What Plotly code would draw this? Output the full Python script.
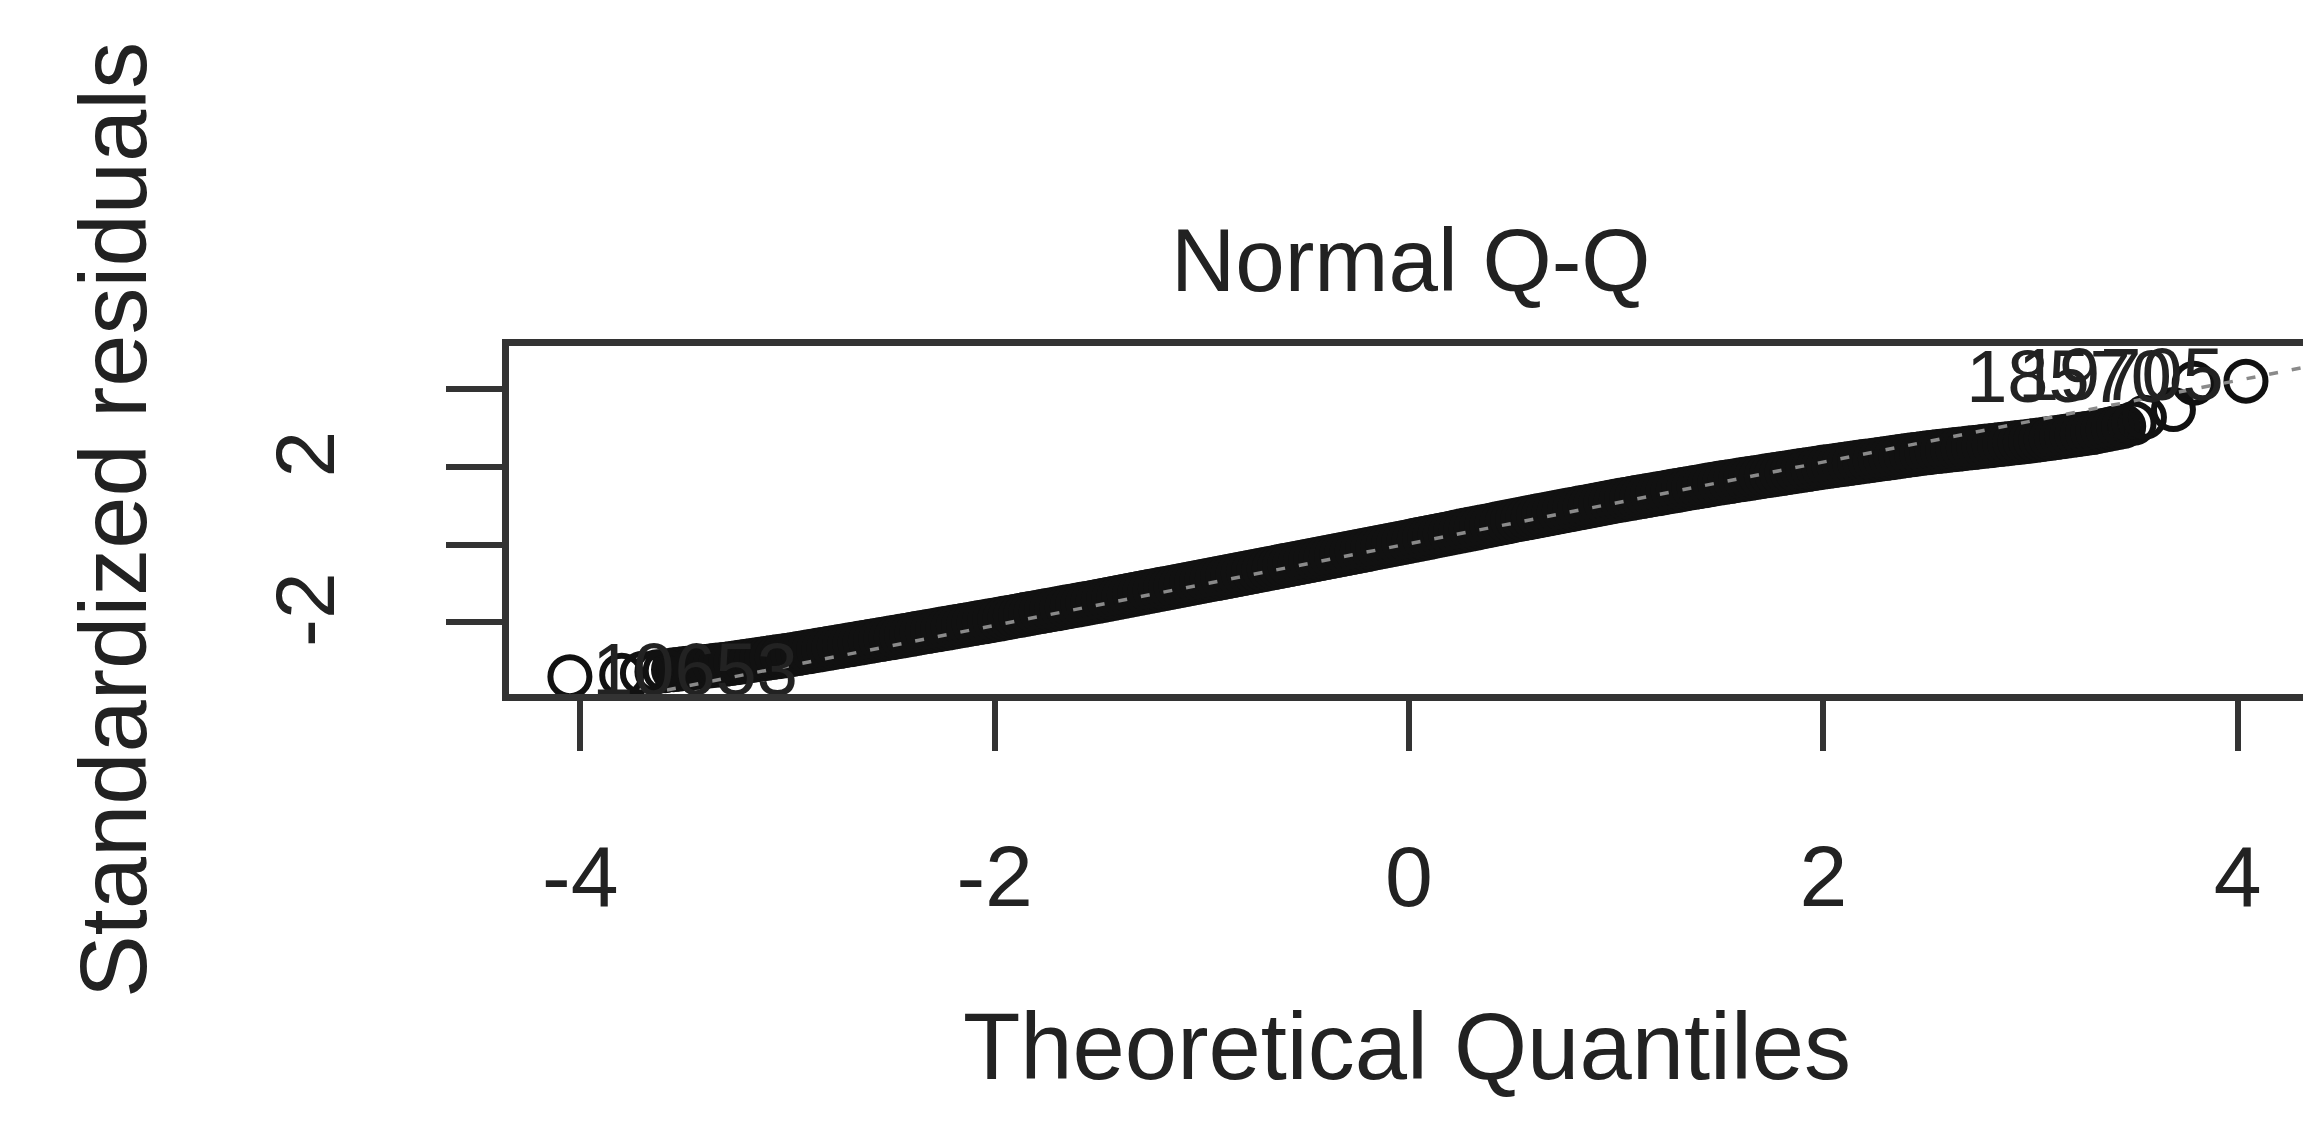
import plotly.graph_objects as go

# ---- data ----
# dense band of points (theoretical quantile, standardized residual)
band_x = [-3.55, -3.525, -3.5, -3.475, -3.45, -3.425, -3.4, -3.375, -3.35, -3.325, -3.3,
          -3.275, -3.25, -3.225, -3.2, -3.175, -3.15, -3.125, -3.1, -3.075, -3.05, -3.025, -3.0,
          -2.975, -2.95, -2.925, -2.9, -2.875, -2.85, -2.825, -2.8, -2.775, -2.75, -2.725, -2.7,
          -2.675, -2.65, -2.625, -2.6, -2.575, -2.55, -2.525, -2.5,
          -2.475, -2.45, -2.425, -2.4, -2.375, -2.35, -2.325, -2.3, -2.275, -2.25, -2.225, -2.2,
          -2.175, -2.15, -2.125, -2.1, -2.075, -2.05, -2.025, -2.0,
          -1.975, -1.95, -1.925, -1.9, -1.875, -1.85, -1.825, -1.8, -1.775, -1.75, -1.725, -1.7,
          -1.675, -1.65, -1.625, -1.6, -1.575, -1.55, -1.525, -1.5,
          -1.475, -1.45, -1.425, -1.4, -1.375, -1.35, -1.325, -1.3, -1.275, -1.25, -1.225, -1.2,
          -1.175, -1.15, -1.125, -1.1, -1.075, -1.05, -1.025, -1.0,
          -0.975, -0.95, -0.925, -0.9, -0.875, -0.85, -0.825, -0.8, -0.775, -0.75, -0.725, -0.7,
          -0.675, -0.65, -0.625, -0.6, -0.575, -0.55, -0.525, -0.5,
          -0.475, -0.45, -0.425, -0.4, -0.375, -0.35, -0.325, -0.3, -0.275, -0.25, -0.225, -0.2,
          -0.175, -0.15, -0.125, -0.1, -0.075, -0.05, -0.025, 0.0,
          0.025, 0.05, 0.075, 0.1, 0.125, 0.15, 0.175, 0.2, 0.225, 0.25, 0.275, 0.3,
          0.325, 0.35, 0.375, 0.4, 0.425, 0.45, 0.475, 0.5,
          0.525, 0.55, 0.575, 0.6, 0.625, 0.65, 0.675, 0.7, 0.725, 0.75, 0.775, 0.8,
          0.825, 0.85, 0.875, 0.9, 0.925, 0.95, 0.975, 1.0,
          1.025, 1.05, 1.075, 1.1, 1.125, 1.15, 1.175, 1.2, 1.225, 1.25, 1.275, 1.3,
          1.325, 1.35, 1.375, 1.4, 1.425, 1.45, 1.475, 1.5,
          1.525, 1.55, 1.575, 1.6, 1.625, 1.65, 1.675, 1.7, 1.725, 1.75, 1.775, 1.8,
          1.825, 1.85, 1.875, 1.9, 1.925, 1.95, 1.975, 2.0,
          2.025, 2.05, 2.075, 2.1, 2.125, 2.15, 2.175, 2.2, 2.225, 2.25, 2.275, 2.3,
          2.325, 2.35, 2.375, 2.4, 2.425, 2.45, 2.475, 2.5,
          2.525, 2.55, 2.575, 2.6, 2.625, 2.65, 2.675, 2.7, 2.725, 2.75, 2.775, 2.8,
          2.825, 2.85, 2.875, 2.9, 2.925, 2.95, 2.975, 3.0,
          3.025, 3.05, 3.075, 3.1, 3.125, 3.15, 3.175, 3.2, 3.225, 3.25, 3.275, 3.3,
          3.325, 3.35, 3.375, 3.4, 3.425, 3.45]
band_y = [-3.22, -3.206, -3.192, -3.178, -3.164, -3.15, -3.136, -3.122, -3.108, -3.094, -3.08,
          -3.061, -3.042, -3.023, -3.003, -2.984, -2.965, -2.946, -2.927, -2.907, -2.888, -2.869, -2.85,
          -2.828, -2.805, -2.783, -2.76, -2.738, -2.715, -2.693, -2.67, -2.648, -2.625, -2.603, -2.58,
          -2.558, -2.535, -2.513, -2.49, -2.468, -2.445, -2.423, -2.4,
          -2.377, -2.354, -2.331, -2.308, -2.285, -2.262, -2.239, -2.216, -2.193, -2.17, -2.147, -2.124,
          -2.101, -2.078, -2.055, -2.032, -2.009, -1.986, -1.963, -1.94,
          -1.916, -1.892, -1.868, -1.844, -1.82, -1.796, -1.772, -1.748, -1.724, -1.7, -1.676, -1.652,
          -1.628, -1.604, -1.58, -1.556, -1.532, -1.508, -1.484, -1.46,
          -1.435, -1.409, -1.384, -1.358, -1.333, -1.307, -1.282, -1.256, -1.231, -1.205, -1.18, -1.154,
          -1.129, -1.103, -1.078, -1.052, -1.027, -1.001, -0.976, -0.95,
          -0.925, -0.899, -0.874, -0.848, -0.823, -0.797, -0.772, -0.746, -0.721, -0.695, -0.67, -0.644,
          -0.619, -0.593, -0.568, -0.542, -0.517, -0.491, -0.466, -0.44,
          -0.414, -0.388, -0.362, -0.336, -0.31, -0.284, -0.258, -0.232, -0.206, -0.18, -0.154, -0.128,
          -0.102, -0.076, -0.05, -0.024, 0.002, 0.028, 0.054, 0.08,
          0.107, 0.133, 0.16, 0.186, 0.213, 0.239, 0.266, 0.292, 0.319, 0.345, 0.372, 0.398,
          0.425, 0.451, 0.478, 0.504, 0.531, 0.557, 0.584, 0.61,
          0.636, 0.661, 0.687, 0.712, 0.738, 0.763, 0.789, 0.814, 0.84, 0.865, 0.891, 0.916,
          0.942, 0.967, 0.993, 1.018, 1.044, 1.069, 1.095, 1.12,
          1.143, 1.166, 1.189, 1.212, 1.235, 1.258, 1.281, 1.304, 1.327, 1.35, 1.373, 1.396,
          1.419, 1.442, 1.465, 1.488, 1.511, 1.534, 1.557, 1.58,
          1.601, 1.621, 1.642, 1.662, 1.683, 1.703, 1.724, 1.744, 1.765, 1.785, 1.806, 1.826,
          1.847, 1.867, 1.888, 1.908, 1.929, 1.949, 1.97, 1.99,
          2.009, 2.027, 2.046, 2.064, 2.083, 2.101, 2.12, 2.138, 2.157, 2.175, 2.194, 2.212,
          2.231, 2.249, 2.268, 2.286, 2.305, 2.323, 2.342, 2.36,
          2.375, 2.39, 2.405, 2.42, 2.435, 2.45, 2.465, 2.48, 2.495, 2.51, 2.525, 2.54,
          2.555, 2.57, 2.585, 2.6, 2.615, 2.63, 2.645, 2.66,
          2.678, 2.697, 2.715, 2.733, 2.752, 2.77, 2.788, 2.807, 2.825, 2.843, 2.862, 2.88,
          2.907, 2.933, 2.96, 2.987, 3.013, 3.04]

# sparse tail points
tail_x = [-4.05, -3.80, -3.70, -3.63, -3.59, 3.50, 3.55, 3.69]
tail_y = [-3.40, -3.36, -3.31, -3.27, -3.245, 3.12, 3.27, 3.47]

# labelled observations
lab_x = [-4.05, 3.79, 4.04]
lab_y = [-3.40, 4.15, 4.20]
lab_text = ["10653", "18570", "19705"]
lab_pos = ["middle right", "middle left", "middle left"]

# reference line (qqline) end points over the x range
line_x = [-4.344, 4.325]
line_intercept = 0.02
line_slope = 1.05
line_y = [line_intercept + line_slope * v for v in line_x]

x_ticks = [-4, -2, 0, 2, 4]
x_ticktext = ["-4", "-2", "0", "2", "4"]
y_ticks = [-2, 0, 2, 4]
y_ticktext = ["-2", "", "2", ""]

FONT = "Liberation Sans, Arial, sans-serif"
AX = "#333333"
TXT = "#222222"

marker = dict(symbol="circle-open", size=39, color="#111111", line=dict(width=6, color="#111111"))

fig = go.Figure()
fig.add_trace(go.Scatter(x=band_x + tail_x, y=band_y + tail_y, mode="markers",
                         marker=marker, hoverinfo="x+y"))
fig.add_trace(go.Scatter(x=[lab_x[1], lab_x[2]], y=[lab_y[1], lab_y[2]], mode="markers",
                         marker=marker))
fig.add_trace(go.Scatter(x=line_x, y=line_y, mode="lines",
                         line=dict(color="#8a8a8a", width=3.5, dash="9px,14px"),
                         hoverinfo="skip"))
fig.add_trace(go.Scatter(x=lab_x, y=lab_y, mode="markers+text", text=lab_text,
                         textposition=lab_pos,
                         marker=dict(symbol="circle-open", size=34, color="rgba(0,0,0,0)",
                                     line=dict(width=0)),
                         textfont=dict(family=FONT, size=74, color=TXT)))

fig.update_layout(
    width=2311, height=1141,
    margin=dict(l=501, r=7, t=338, b=455),
    paper_bgcolor="white", plot_bgcolor="white",
    showlegend=False,
    font=dict(family=FONT, color=TXT),
    title=dict(text="Normal Q-Q", x=0.607, xanchor="center", y=0.779, yanchor="middle",
               xref="container", yref="container",
               font=dict(family=FONT, size=89, color=TXT)),
)
fig.update_xaxes(
    range=[-4.344, 4.325], tickmode="array", tickvals=x_ticks, ticktext=x_ticktext,
    ticks="outside", ticklen=50, tickwidth=6, tickcolor=AX,
    showline=True, linewidth=7, linecolor=AX, mirror=True,
    showgrid=False, zeroline=False,
    tickfont=dict(family=FONT, size=86, color=TXT),
    ticklabelstandoff=52,
    title=dict(text="Theoretical Quantiles", standoff=92,
               font=dict(family=FONT, size=94, color=TXT)),
)
fig.update_yaxes(
    range=[-3.845, 5.105], tickmode="array", tickvals=y_ticks, ticktext=y_ticktext,
    tickangle=-90,
    ticks="outside", ticklen=56, tickwidth=6, tickcolor=AX,
    showline=True, linewidth=7, linecolor=AX, mirror=True,
    showgrid=False, zeroline=False,
    tickfont=dict(family=FONT, size=84, color=TXT),
    ticklabelstandoff=78,
    title=dict(text="Standardized residuals", standoff=83,
               font=dict(family=FONT, size=94, color=TXT)),
)

fig.write_html("out.html")
